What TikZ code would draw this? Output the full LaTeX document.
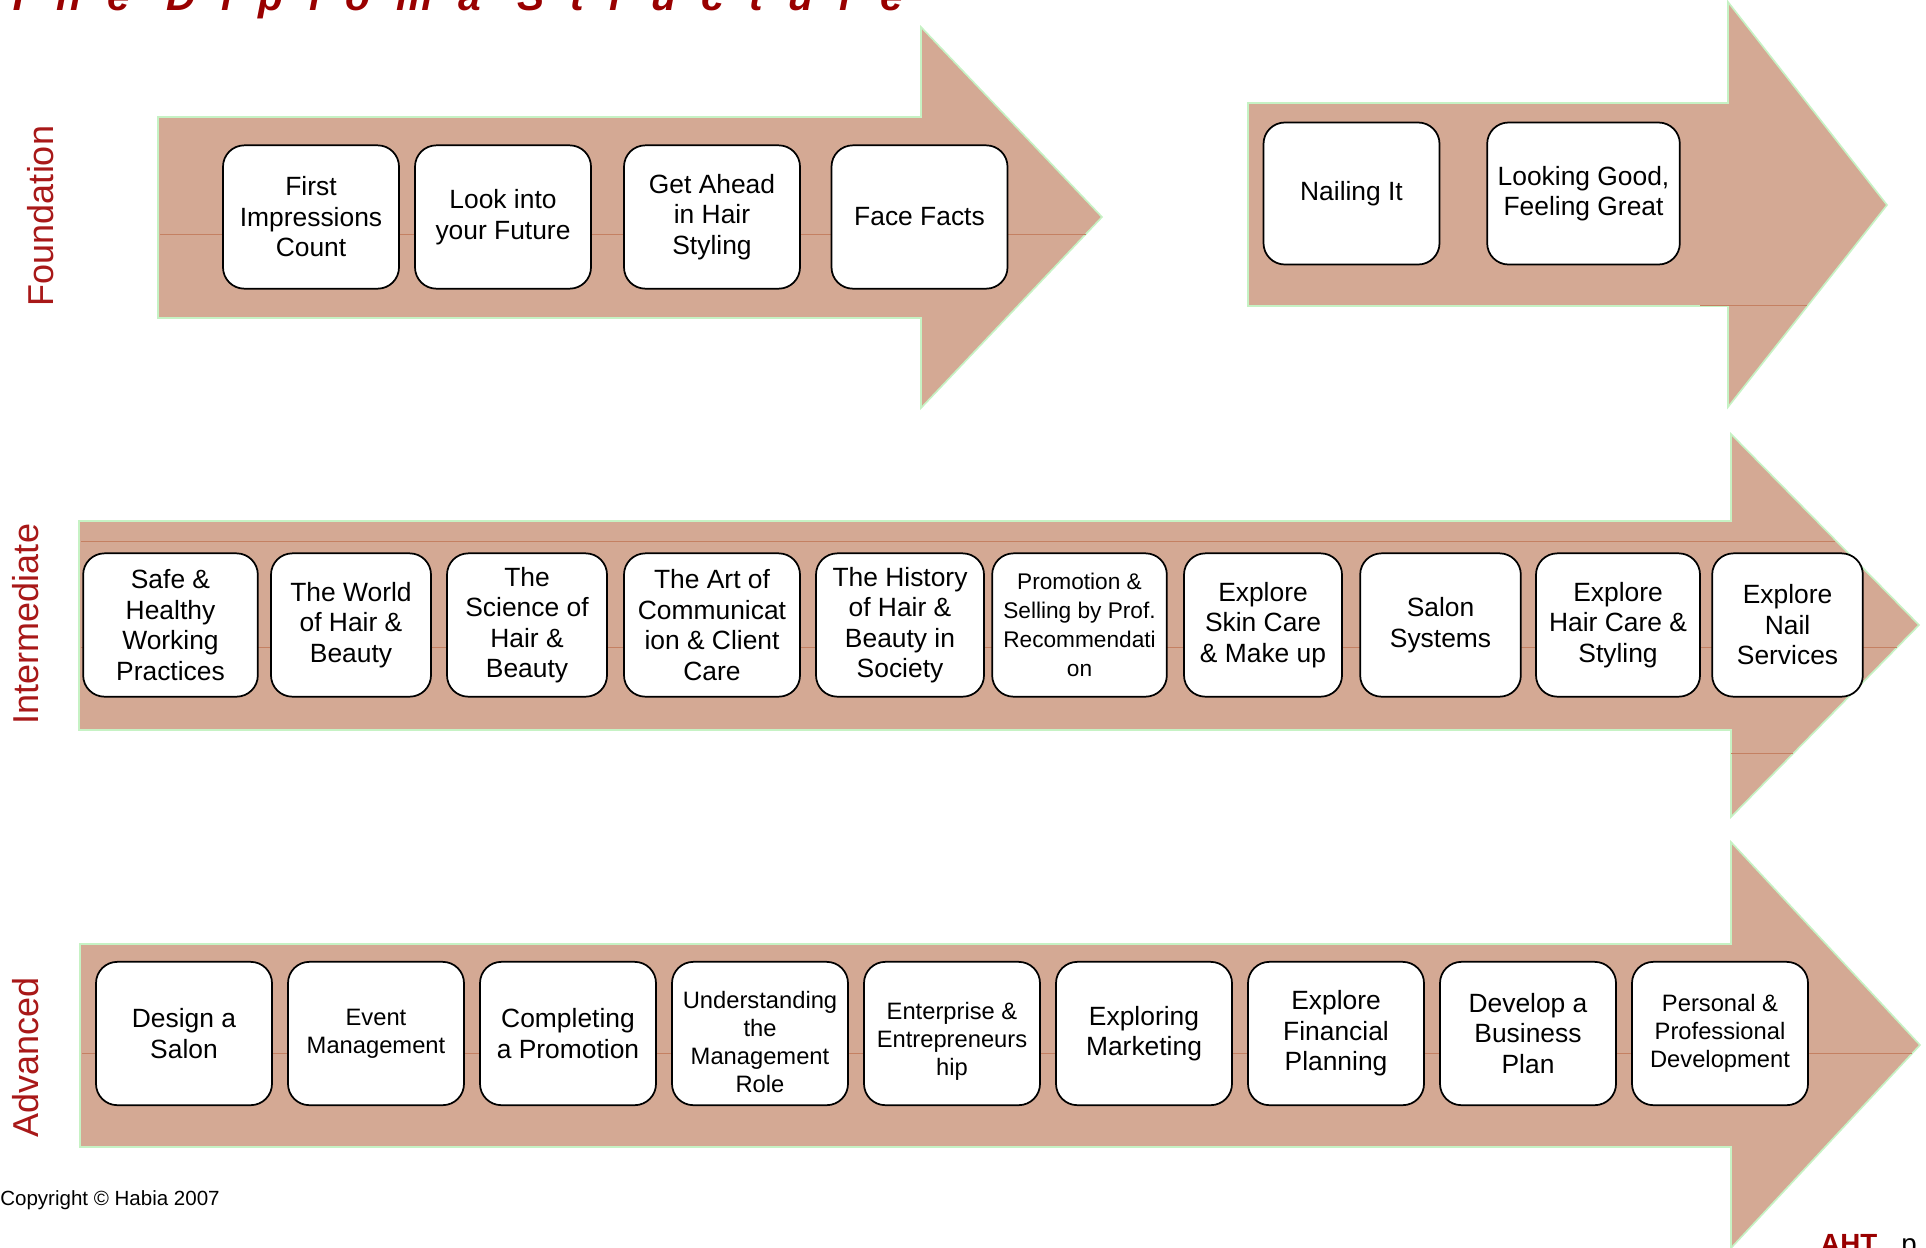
\documentclass[tikz,border=0pt]{standalone}
\usepackage{fontspec}
\setmainfont{Liberation Sans}
\newfontfamily\titlefont[LetterSpace=63]{Liberation Sans}
\definecolor{arrowfill}{RGB}{212,169,148}
\definecolor{arrowedge}{RGB}{198,242,196}
\definecolor{seamline}{RGB}{196,128,98}
\definecolor{levelred}{RGB}{168,24,24}
\definecolor{titlered}{RGB}{153,0,0}
\newcommand{\unitfont}{\fontsize{19.8}{22.9}\selectfont}
\newcommand{\smallunitfont}{\fontsize{17.8}{21}\selectfont}
\newcommand{\levelfont}{\fontsize{27}{30}\selectfont}
\newcommand{\lowerby}{\rule{0pt}{25pt}}
\tikzset{
%big block arrows
stage/.style={fill=arrowfill, draw=arrowedge, line width=1.2pt},
seam/.style={draw=seamline, line width=0.6pt},
%units of each level
unit/.style={draw, fill=white, line width=1.3pt, rounded corners=16pt, align=center,
  inner sep=2pt, minimum width=132pt, minimum height=107.5pt, font=\unitfont},
small unit/.style={unit, font=\smallunitfont},
level/.style={rotate=90, text=levelred, font=\levelfont, inner sep=0pt},
}

\begin{document}
\begin{tikzpicture}[x=0.75pt,y=-0.75pt]
    \useasboundingbox (0,0) rectangle (1926,1247);

    % title
    \node[anchor=base west, inner sep=0pt, text=titlered,
      font=\titlefont\bfseries\itshape\fontsize{30.5}{36}\selectfont] (title) at (6,10) {The Diploma Structure};

    % arrows
    \path[stage] (158,117) -- (921,117) -- (921,27) -- (1102,217) -- (921,408) -- (921,318) -- (158,318) -- cycle;
    \path[stage] (1248,103) -- (1728,103) -- (1728,2) -- (1887,205) -- (1728,407) -- (1728,306) -- (1248,306) -- cycle;
    \path[stage] (79,521) -- (1731,521) -- (1731,434) -- (1919,625) -- (1731,817) -- (1731,730) -- (79,730) -- cycle;
    \path[stage] (80,944) -- (1731,944) -- (1731,842) -- (1920,1045) -- (1731,1248) -- (1731,1147) -- (80,1147) -- cycle;

    % faint seams in the fill
    \draw[seam] (160,234) -- (1086,234);
    \draw[seam] (1700,305) -- (1807,305);
    \draw[seam] (81,541) -- (1835,541);
    \draw[seam] (81,647) -- (1897,647);
    \draw[seam] (1731,753) -- (1793,753);
    \draw[seam] (82,1053) -- (1912,1053);

    % levels
    \node[level] (foundation) at (41,216) {Foundation};
    \node[level] (intermediate) at (26,624) {Intermediate};
    \node[level] (advanced) at (26,1057) {Advanced};

    % foundation units
    \node[unit] (f1) at (311,217) {First\\Impressions\\Count};
    \node[unit] (f2) at (503,217) {Look into\\your Future};
    \node[unit] (f3) at (712,217) {Get Ahead\\in Hair\\Styling};
    \node[unit] (f4) at (919.5,217) {Face Facts};
    \node[unit, minimum height=106.5pt] (f5) at (1351.5,193.5) {Nailing It};
    \node[unit, minimum height=106.5pt, minimum width=144.5pt] (f6) at (1583.5,193.5) {Looking Good,\\Feeling Great};

    % intermediate units
    \node[unit, minimum width=131pt] (i1) at (170.5,625) {Safe \&\\Healthy\\Working\\Practices};
    \node[unit, minimum width=120pt] (i2) at (351,625) {The World\\of Hair \&\\Beauty};
    \node[unit, minimum width=120pt] (i3) at (527,625) {The\\Science of\\Hair \&\\Beauty};
    \node[unit] (i4) at (712,625) {The Art of\\Communicat\\ion \& Client\\Care};
    \node[unit, minimum width=126pt] (i5) at (900,625) {The History\\of Hair \&\\Beauty in\\Society};
    \node[unit, minimum width=131pt, font=\fontsize{17}{21.7}\selectfont] (i6) at (1079.5,625)
      {Promotion \&\\Selling by Prof.\\Recommendati\\on};
    \node[unit, minimum width=118.5pt] (i7) at (1263,625) {Explore\\Skin Care\\\& Make up};
    \node[unit, minimum width=120.5pt] (i8) at (1440.5,625) {Salon\\Systems};
    \node[unit, minimum width=123pt] (i9) at (1618,625) {Explore\\Hair Care \&\\Styling};
    \node[unit, minimum width=113pt] (i10) at (1787.5,625) {Explore\\Nail\\Services};

    % advanced units
    \node[unit] (a1) at (184,1033.5) {Design a\\Salon};
    \node[small unit] (a2) at (376,1033.5) {Event\\Management};
    \node[unit] (a3) at (568,1033.5) {Completing\\a Promotion};
    \node[small unit] (a4) at (760,1033.5) {\lowerby Understanding\\the\\Management\\Role};
    \node[small unit] (a5) at (952,1033.5) {\lowerby Enterprise \&\\Entrepreneurs\\hip};
    \node[unit] (a6) at (1144,1033.5) {Exploring\\Marketing};
    \node[unit] (a7) at (1336,1033.5) {Explore\\Financial\\Planning};
    \node[unit] (a8) at (1528,1033.5) {Develop a\\Business\\Plan};
    \node[small unit] (a9) at (1720,1033.5) {Personal \&\\Professional\\Development};

    % footer
    \node[anchor=base west, inner sep=0pt, font=\fontsize{15.4}{18}\selectfont] (copy) at (0,1205) {Copyright © Habia 2007};
    \node[anchor=base west, inner sep=0pt, text=titlered, font=\bfseries\fontsize{20.8}{24}\selectfont] (aht) at (1820,1253) {AHT};
    \node[anchor=base west, inner sep=0pt, font=\fontsize{20.8}{24}\selectfont] (page) at (1901,1253) {p};
\end{tikzpicture}
\end{document}
